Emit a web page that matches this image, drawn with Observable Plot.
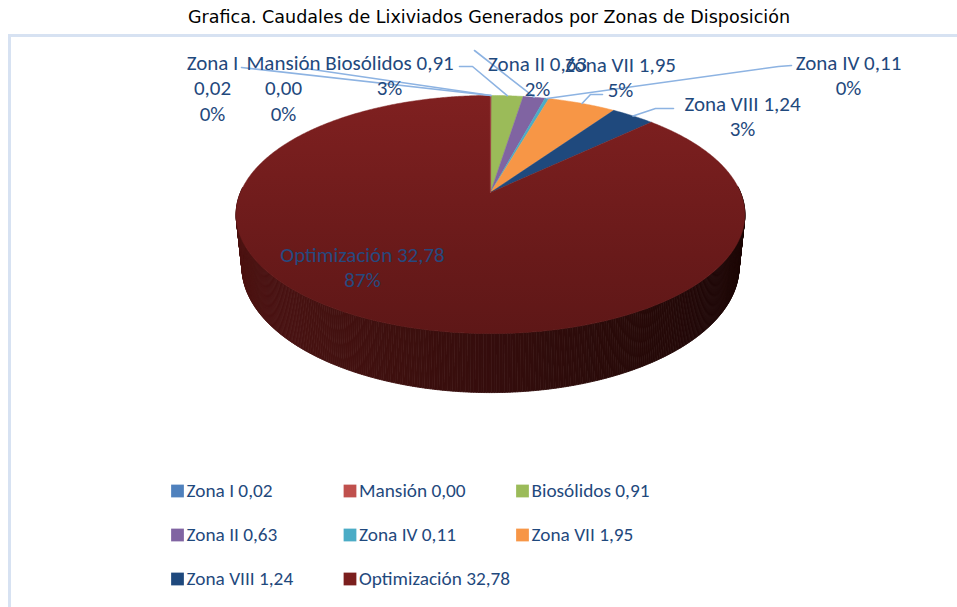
<!DOCTYPE html>
<html><head><meta charset="utf-8">
<script src="https://cdn.jsdelivr.net/npm/d3@7"></script>
<script src="https://cdn.jsdelivr.net/npm/@observablehq/plot@0.6"></script>
<style>
body{margin:0;background:#fff;width:957px;height:607px;overflow:hidden;position:relative;}
#box{position:absolute;left:8px;top:34px;width:1000px;height:700px;border:3px solid #d7e2f2;box-sizing:border-box;}
#chart{position:absolute;left:0;top:0;}
#title{position:absolute;left:0;top:0;width:957px;height:34px;}
#title span{position:absolute;left:188px;top:7px;white-space:nowrap;font-family:"Liberation Sans Narrow","Arial Narrow","DejaVu Sans Condensed","Liberation Sans",sans-serif;font-size:17px;color:#000;transform-origin:0 0;}
</style></head>
<body>
<div id="box"></div>
<div id="chart"></div>
<div id="title"><span>Grafica. Caudales de Lixiviados Generados por Zonas de Disposición</span></div>
<script>
// ---- data ----
const categories = ["Zona I","Mansión","Biosólidos","Zona II","Zona IV","Zona VII","Zona VIII","Optimización"];
const values = [0.02,0.00,0.91,0.63,0.11,1.95,1.24,32.78];
const percentLabels = ["0%","0%","3%","2%","0%","5%","3%","87%"];
const colors = ["#4f81bd","#c0504d","#9bbb59","#8064a2","#4bacc6","#f79646","#1f497d","url(#optTop)"];
const legendColors = ["#4f81bd","#c0504d","#9bbb59","#8064a2","#4bacc6","#f79646","#1f497d","#7b1f1e"];

// ---- layout (page pixels) ----
const pie = {cx:490, cy:192, S:250, dist:4.8, cosA:0.888, sinA:0.46, h:0.237};
const labelLayout = [
  {cx:212, y:69, lines:3, leader:[[241,67]]},
  {cx:283, y:69, lines:3, leader:[[305,68]]},
  {cx:389, y:69, lines:2, leader:[[459,66],[472,66]]},
  {cx:537, y:70, lines:2, leader:[[474,50]]},
  {cx:848, y:69, lines:2, leader:[[791,65],[778,66]]},
  {cx:620, y:71, lines:2, leader:[[602,94],[590,94]]},
  {cx:742, y:110, lines:2, leader:[[673,108],[655,108]]},
  {cx:362, y:261, lines:2, leader:null}
];
const lineGap = 25.5;
const legendLayout = {x0:177, dx:172.5, y0:496, dy:44};

function projXYZ(X, Y, Z){
  const depth = pie.dist - Y*pie.sinA + Z*pie.cosA;
  const v = Y*pie.cosA + Z*pie.sinA;
  return [pie.cx + pie.S*pie.dist*X/depth, pie.cy - pie.S*pie.dist*v/depth];
}
const proj = (theta, Y) => projXYZ(Math.sin(theta), Y, Math.cos(theta));
const fmt = v => v.toFixed(2).replace(".", ",");
const arcs = d3.pie().sort(null).startAngle(0).endAngle(2*Math.PI)(values);
const step = Math.PI/360;

// top faces
const tops = [];
const [ax, ay] = projXYZ(0, 0, 0); // pie centre
arcs.forEach((a,i)=>{
  if (a.endAngle - a.startAngle <= 0) return;
  tops.push({id:"t"+i, x:ax, y:ay, c:colors[i]});
  const n = Math.max(2, Math.ceil((a.endAngle-a.startAngle)/step));
  for (let k=0;k<=n;k++){
    const t = a.startAngle + (a.endAngle-a.startAngle)*k/n;
    const [x,y] = proj(t,0);
    tops.push({id:"t"+i, x, y, c:colors[i]});
  }
});

// side walls (front facing portion)
const walls = [];
const wallShade = d3.interpolateRgb("#4c1312","#1d0706");
arcs.forEach((a,i)=>{
  const n = Math.max(1, Math.ceil((a.endAngle-a.startAngle)/step));
  for (let k=0;k<n;k++){
    const t0 = a.startAngle + (a.endAngle-a.startAngle)*k/n;
    const t1 = a.startAngle + (a.endAngle-a.startAngle)*(k+1)/n;
    const tm = (t0+t1)/2;
    if (Math.cos(tm) > 0.05) continue;
    const p = [proj(t0,0), proj(t1,0), proj(t1,-pie.h), proj(t0,-pie.h)];
    const tx = (proj(tm,0)[0] - (pie.cx-255))/510;
    const base = i===7 ? wallShade(Math.max(0,Math.min(1,tx))) : d3.color(legendColors[i]).darker(1.2).formatHex();
    p.forEach(([x,y])=>walls.push({id:`w${i}_${k}`, x, y, c:base}));
  }
});

// leader lines
const leaders = [];
arcs.forEach((a,i)=>{
  const L = labelLayout[i];
  if (!L.leader) return;
  L.leader.forEach(([x,y])=>leaders.push({id:"l"+i, x, y}));
  const [rx,ry] = proj((a.startAngle+a.endAngle)/2, 0);
  leaders.push({id:"l"+i, x:rx, y:ry});
});

// edge of the first slice boundary (seen edge-on)
const edge = [{x:ax, y:ay}, {x:proj(0,0)[0], y:proj(0,0)[1]}];

// data labels
const labels = [];
categories.forEach((c,i)=>{
  const L = labelLayout[i];
  const lines = L.lines===3 ? [c, fmt(values[i]), percentLabels[i]] : [`${c} ${fmt(values[i])}`, percentLabels[i]];
  lines.forEach((t,j)=>labels.push({x:L.cx, y:L.y + j*lineGap, text:t, opt:i===7}));
});

// legend
const legend = categories.map((c,i)=>({
  x: legendLayout.x0 + (i%3)*legendLayout.dx,
  y: legendLayout.y0 + Math.floor(i/3)*legendLayout.dy,
  text: `${c} ${fmt(values[i])}`,
  c: legendColors[i]
}));

const fontFam = "Carlito, Calibri, Lato, sans-serif";
const chart = Plot.plot({
  width:957, height:607, margin:0,
  x:{domain:[0,957], range:[0,957], axis:null},
  y:{domain:[0,607], range:[0,607], axis:null},
  color:{type:"identity"},
  style:{background:"transparent", overflow:"visible"},
  marks:[
    Plot.line(walls, {x:"x", y:"y", z:"id", fill:"c", stroke:"c", strokeWidth:0.8, curve:"linear-closed"}),
    Plot.line(tops, {x:"x", y:"y", z:"id", fill:"c", stroke:"c", strokeWidth:0.5, curve:"linear-closed"}),
    Plot.line(edge, {x:"x", y:"y", stroke:"#9c4644", strokeWidth:1.2}),
    Plot.line(leaders, {x:"x", y:"y", z:"id", stroke:"#8db3e2", strokeWidth:1.6}),
    Plot.text(labels.filter(d=>!d.opt), {x:"x", y:"y", text:"text", lineAnchor:"bottom", textAnchor:"middle", fill:"#1f497d", fontSize:21, fontFamily:fontFam}),
    Plot.text(labels.filter(d=>d.opt), {x:"x", y:"y", text:"text", lineAnchor:"bottom", textAnchor:"middle", fill:"#26497f", fontSize:21, fontFamily:fontFam}),
    Plot.dot(legend, {x:d=>d.x, y:d=>d.y-5.5, symbol:"square", r:7.2, fill:"c"}),
    Plot.text(legend, {x:d=>d.x+9, y:"y", text:"text", lineAnchor:"bottom", textAnchor:"start", fill:"#1f497d", fontSize:19.3, fontFamily:fontFam})
  ]
});
const defs = document.createElementNS("http://www.w3.org/2000/svg","defs");
defs.innerHTML = '<linearGradient id="optTop" x1="0" y1="0" x2="0" y2="1"><stop offset="0" stop-color="#7f2020"/><stop offset="1" stop-color="#5e1717"/></linearGradient>';
chart.insertBefore(defs, chart.firstChild);
document.getElementById("chart").appendChild(chart);

const span = document.querySelector("#title span");
const w = span.getBoundingClientRect().width;
span.style.transform = `scaleX(${602/w})`;
</script>
</body></html>
